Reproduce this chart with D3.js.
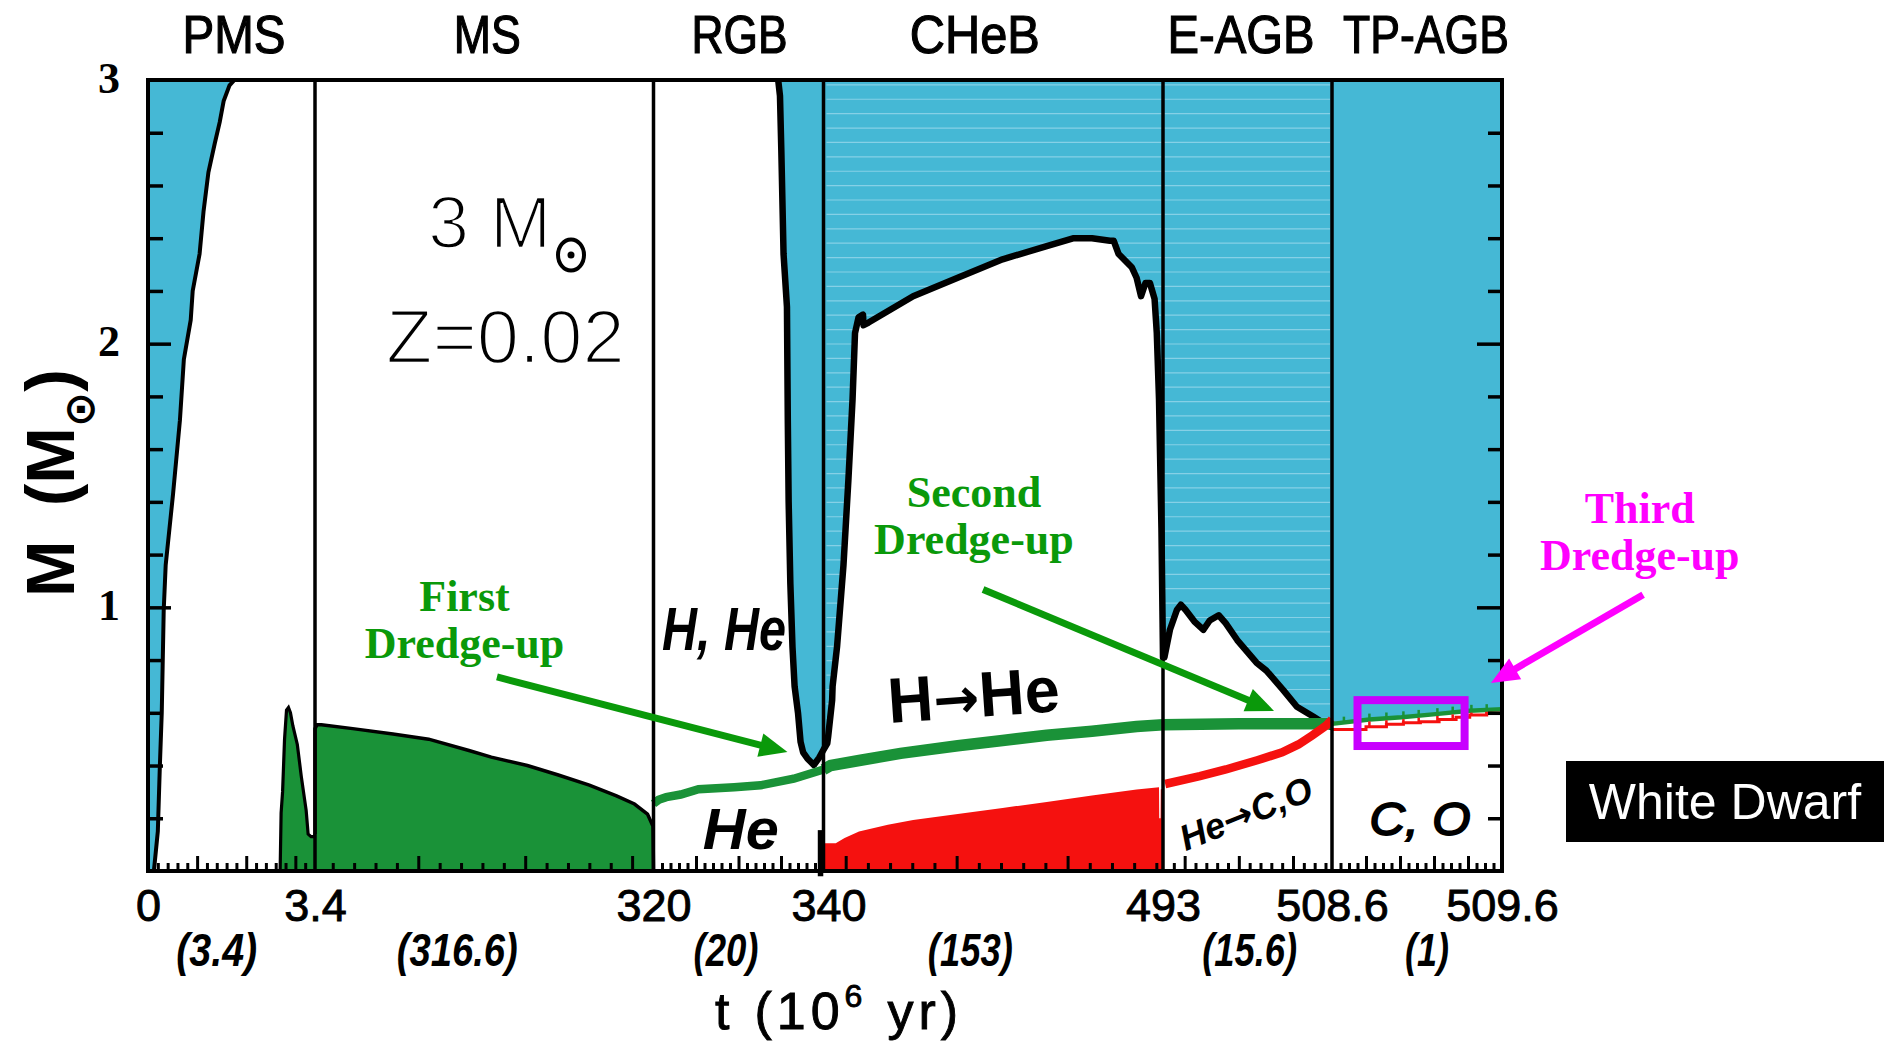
<!DOCTYPE html>
<html><head><meta charset="utf-8">
<script src="https://cdn.jsdelivr.net/npm/d3@7"></script>
<style>html,body{margin:0;padding:0;background:#fff;} svg{display:block;}</style>
</head><body>
<svg id="chart" width="1892" height="1045"></svg>
<script>
// ================= DATA =================
const phaseBreaks = [0, 3.4, 320, 340, 493, 508.6, 509.6];
const phaseNames = ["PMS", "MS", "RGB", "CHeB", "E-AGB", "TP-AGB"];
const phaseDurations = ["(3.4)", "(316.6)", "(20)", "(153)", "(15.6)", "(1)"];
const timeTickLabels = ["0", "3.4", "320", "340", "493", "508.6", "509.6"];
const massTickLabels = [1, 2, 3];

// base of the convective envelope during the PMS  [t (Myr), M (Msun)]
const pmsEnvelope = [[0.12,0.0],[0.20,0.15],[0.24,0.39],[0.28,0.60],[0.32,0.99],[0.36,1.16],[0.51,1.43],
  [0.65,1.71],[0.73,1.94],[0.87,2.09],[0.91,2.20],[1.05,2.34],[1.13,2.50],[1.23,2.65],[1.36,2.76],
  [1.46,2.84],[1.54,2.92],[1.66,2.98],[1.76,3.0]];
// base of the convective envelope RGB -> E-AGB
const envelopeBase = [[334.67,3.0],[334.88,2.94],[335.04,2.73],[335.3,2.34],[335.7,2.14],[335.8,1.71],
  [335.9,1.40],[336.1,1.09],[336.35,0.85],[336.6,0.70],[337.0,0.60],[337.3,0.49],[337.6,0.45],[338.1,0.427],
  [338.86,0.402],[339.5,0.43],[340,0.46],[341.7,0.484],[342.1,0.51],[343.9,0.648],[344.1,0.70],[346.1,0.85],
  [349.0,1.16],[351.2,1.48],[353.1,1.79],[354.2,2.04],[355.8,2.10],[357.8,2.11],[358.05,2.07],[360.3,2.08],
  [380.4,2.18],[400.5,2.25],[420.7,2.32],[440.6,2.37],[452.8,2.40],[461,2.40],[469.1,2.39],[470.8,2.39],
  [473,2.34],[478.9,2.29],[481.1,2.25],[483.1,2.18],[485.1,2.23],[487.1,2.23],[489.2,2.17],[490.2,2.04],
  [491.2,1.79],[492.3,1.30],[493,0.81],[493.13,0.81],[493.64,0.915],[494.28,0.99],[494.65,1.01],[495.09,0.99],
  [495.9,0.946],[496.73,0.915],[497.31,0.95],[498.14,0.97],[498.78,0.94],[499.85,0.876],[501.63,0.79],
  [502.54,0.76],[504.1,0.686],[505.36,0.623],[506.9,0.585],[508.1,0.554],[508.6,0.545]];
// TP-AGB envelope base (green) and H-free core (red, stepped)
const tpGreen = [[508.6,0.558],[508.82,0.575],[509.01,0.583],[509.21,0.595],[509.41,0.608],[509.6,0.613]];
const tpRed = [[508.6,0.537],[508.80,0.547],[508.92,0.557],[509.02,0.562],[509.12,0.566],[509.23,0.575],
  [509.33,0.583],[509.41,0.592],[509.51,0.598],[509.6,0.60]];
const tpPulses = [508.67,508.82,508.92,509.02,509.11,509.22,509.31,509.42,509.51];
// convective cores
const pmsCore = [[2.69,0.0],[2.71,0.22],[2.74,0.30],[2.78,0.50],[2.82,0.61],[2.86,0.62],[2.90,0.60],[2.95,0.55],
  [3.04,0.48],[3.12,0.36],[3.22,0.23],[3.26,0.14],[3.32,0.13],[3.38,0.13],[3.4,0.14]];
const msCore = [[3.4,0.14],[3.4,0.54],[5.3,0.555],[9.4,0.555],[38.7,0.54],[76.3,0.52],[109.7,0.50],[147.4,0.457],
  [168.3,0.432],[202,0.40],[231,0.364],[260,0.326],[285.4,0.285],[302.2,0.254],[314.4,0.216],[319.5,0.17],[320,0.0]];
const heCore = [[340,0.105],[345.5,0.105],[349.5,0.125],[356,0.15],[369,0.175],[380.4,0.193],[400.5,0.216],
  [420.7,0.239],[440.6,0.262],[461,0.286],[481.1,0.309],[491.2,0.318],[491.3,0.2],[491.9,0.2],[492.0,0.31],[493,0.31]];
// H-free core mass (green line) and He-free core mass on the E-AGB (red line)
const hFreeCoreRGB = [[320,0.255],[320.6,0.27],[321.5,0.28],[323.2,0.29],[325.3,0.31],[329.5,0.318],[332.6,0.325],
  [336.5,0.35],[340,0.385]];
const hFreeCoreLate = [[340,0.385],[343.2,0.40],[356.7,0.42],[374.75,0.446],[400.5,0.475],[420.7,0.495],
  [440.6,0.515],[461,0.53],[481.1,0.548],[493,0.555],[500,0.558],[508.6,0.558]];
const eagbRed = [[493.2,0.33],[496.4,0.36],[498.8,0.385],[501.7,0.42],[504,0.45],[505.5,0.48],[506.8,0.515],
  [508.1,0.553],[508.6,0.575]];
const heFlashBar = [[339.65,-0.02],[339.65,0.155]];
const dredgeBox = [[508.75,0.474],[509.38,0.648]];

// tick definitions per phase: [first, last, step, major every]
const timeTicks = [[0.2,3.2,0.2,1],[20,300,20,100],[321,339,1,5],[350,490,10,50],[494,508,1,5],[508.65,509.55,0.05,0.2]];
const massMinorStep = 0.2;

// annotations (anchored in data units)
const arrowsData = [
  {from:[173.6,0.736], to:[335.76,0.451], color:"#0a990a"},
  {from:[411.9,1.068], to:[503.25,0.607], color:"#0a990a"},
  {from:[510.43,1.048], to:[509.535,0.713], color:"#ff00ff"}
];
const dredgeLabels = [
  {t:143.2, lines:[["First",0.986],["Dredge-up",0.808]], color:"#0a990a"},
  {t:407.8, lines:[["Second",1.379],["Dredge-up",1.203]], color:"#0a990a"},
  {t:510.41, lines:[["Third",1.32],["Dredge-up",1.141]], color:"#ff00ff"}
];

// ================= LAYOUT =================
const L = {segEdges:[148,315,653.5,823.5,1163,1332,1502], top:80, bottom:871};
const svg = d3.select("#chart");
const x = d3.scaleLinear().domain(phaseBreaks).range(L.segEdges);
const y = d3.scaleLinear().domain([0,3]).range([L.bottom, L.top]);
const px = d => x(d[0]), py = d => y(d[1]);
const line = d3.line().x(px).y(py);
const BLUE = "#45b8d5", GREEN = "#1a9238", RED = "#f5110f";
const SANS = "'Liberation Sans', Arial, sans-serif", SERIF = "'Liberation Serif', 'Times New Roman', serif";
const DEJA = "'DejaVu Sans', sans-serif";

svg.append("rect").attr("width",1892).attr("height",1045).attr("fill","#fff");
const g = svg.append("g");

// ---- convective envelope (blue) ----
const pmsBlue = [[0,0]].concat(pmsEnvelope, [[0,3]]);
g.append("path").attr("d", line(pmsBlue)).attr("fill", BLUE);
const mainBlue = envelopeBase.concat(tpGreen, [[509.6,3],[envelopeBase[0][0],3]]);
g.append("path").attr("d", line(mainBlue)).attr("fill", BLUE);
// faint plotting stripes in the CHeB/E-AGB envelope
svg.append("clipPath").attr("id","blueClip").append("path").attr("d", line(mainBlue));
g.append("g").attr("clip-path","url(#blueClip)").selectAll("line")
  .data(d3.range(0.47, 3, 0.0546)).join("line")
  .attr("x1", x(340)+3).attr("x2", x(508.6)-2).attr("y1", d=>y(d)).attr("y2", d=>y(d))
  .attr("stroke","#86d0e6").attr("stroke-width",1.2);
g.append("path").attr("d", line(pmsEnvelope)).attr("fill","none").attr("stroke","#000").attr("stroke-width",4);
g.append("path").attr("d", line(envelopeBase)).attr("fill","none").attr("stroke","#000")
  .attr("stroke-width",6.5).attr("stroke-linejoin","round");

// ---- convective cores ----
g.append("path").attr("d", line(pmsCore.concat([[3.4,0]]))).attr("fill", GREEN);
g.append("path").attr("d", line(pmsCore)).attr("fill","none").attr("stroke","#000").attr("stroke-width",3.2);
g.append("path").attr("d", line([[3.4,0]].concat(msCore))).attr("fill", GREEN);
g.append("path").attr("d", line(msCore)).attr("fill","none").attr("stroke","#000").attr("stroke-width",3.5);
g.append("path").attr("d", line([[340,0]].concat(heCore, [[493,0]]))).attr("fill", RED);

// ---- core mass lines ----
g.append("path").attr("d", line(hFreeCoreRGB)).attr("fill","none").attr("stroke",GREEN).attr("stroke-width",8.5);
g.append("path").attr("d", line(hFreeCoreLate)).attr("fill","none").attr("stroke",GREEN).attr("stroke-width",11.5);
g.append("path").attr("d", line(eagbRed)).attr("fill","none").attr("stroke",RED).attr("stroke-width",8.5);
g.append("path").attr("d", line(tpGreen)).attr("fill","none").attr("stroke",GREEN).attr("stroke-width",4.5);
g.append("path").attr("d", d3.line().x(px).y(py).curve(d3.curveStepAfter)(tpRed))
  .attr("fill","none").attr("stroke",RED).attr("stroke-width",3);
const greenAt = t => { const i = d3.bisector(d=>d[0]).left(tpGreen, t); const a = tpGreen[Math.max(0,i-1)], b = tpGreen[Math.min(tpGreen.length-1,i)];
  return a[0]===b[0] ? a[1] : a[1] + (b[1]-a[1])*(t-a[0])/(b[0]-a[0]); };
const redAt = t => { let v = tpRed[0][1]; tpRed.forEach(d => { if (d[0] <= t+1e-9) v = d[1]; }); return v; };
g.selectAll(".gsp").data(tpPulses).join("line").attr("x1",d=>x(d)).attr("x2",d=>x(d))
  .attr("y1",d=>y(greenAt(d))).attr("y2",d=>y(greenAt(d)+0.022)).attr("stroke",GREEN).attr("stroke-width",2.5);
g.selectAll(".rsp").data(tpPulses.slice(1)).join("line").attr("x1",d=>x(d)).attr("x2",d=>x(d))
  .attr("y1",d=>y(redAt(d-0.001))).attr("y2",d=>y(greenAt(d))+2).attr("stroke",RED).attr("stroke-width",2.5);

// ---- helium flash bar ----
g.append("path").attr("d", line(heFlashBar)).attr("stroke","#000").attr("stroke-width",5.5);

// ---- phase boundaries ----
g.selectAll(".pb").data(phaseBreaks.slice(1,-1)).join("line")
  .attr("x1",d=>x(d)).attr("x2",d=>x(d)).attr("y1",y(3)).attr("y2",y(0))
  .attr("stroke","#000").attr("stroke-width",3.5);

// ---- axes (ticks inward) ----
const massMinor = d3.range(0, 3.001, massMinorStep).filter(v => Math.abs(v-Math.round(v))>1e-6);
function styleAxis(sel, w){ sel.select(".domain").remove(); sel.selectAll(".tick line").attr("stroke","#000").attr("stroke-width",w); sel.selectAll("text").remove(); }
svg.append("g").attr("transform",`translate(${L.segEdges[0]},0)`).call(d3.axisLeft(y).tickValues(massMinor).tickSize(-15)).call(styleAxis,3.5);
svg.append("g").attr("transform",`translate(${L.segEdges[0]},0)`).call(d3.axisLeft(y).tickValues([1,2]).tickSize(-23)).call(styleAxis,3.5);
svg.append("g").attr("transform",`translate(${L.segEdges[6]},0)`).call(d3.axisRight(y).tickValues(massMinor).tickSize(-14)).call(styleAxis,3.5);
svg.append("g").attr("transform",`translate(${L.segEdges[6]},0)`).call(d3.axisRight(y).tickValues([1,2]).tickSize(-25)).call(styleAxis,3.5);
let minorT = [], majorT = [];
timeTicks.forEach(([a,b,s,m]) => d3.range(a, b+s/2, s).forEach(v => {
  const r = v/m; (Math.abs(r-Math.round(r))<1e-6 ? majorT : minorT).push(+v.toFixed(3)); }));
svg.append("g").attr("transform",`translate(0,${L.bottom})`).call(d3.axisBottom(x).tickValues(minorT).tickSize(-8)).call(styleAxis,3);
svg.append("g").attr("transform",`translate(0,${L.bottom})`).call(d3.axisBottom(x).tickValues(majorT).tickSize(-15)).call(styleAxis,3);

// frame
svg.append("rect").attr("x",L.segEdges[0]).attr("y",L.top).attr("width",L.segEdges[6]-L.segEdges[0]).attr("height",L.bottom-L.top)
  .attr("fill","none").attr("stroke","#000").attr("stroke-width",4);

// tick labels
const xAx = svg.append("g").attr("transform",`translate(0,${L.bottom})`)
  .call(d3.axisBottom(x).tickValues(phaseBreaks).tickSize(0).tickFormat((d,i)=>timeTickLabels[i]));
xAx.select(".domain").remove();
xAx.selectAll("text").attr("y",50).attr("dy",0).attr("font-family",SANS).attr("font-size",45).attr("fill","#000")
  .attr("stroke","#000").attr("stroke-width",0.9).attr("dx",(d,i)=>i===3?5:0);
const yAx = svg.append("g").attr("transform",`translate(120,0)`)
  .call(d3.axisLeft(y).tickValues(massTickLabels).tickSize(0).tickPadding(0).tickFormat(d3.format("d")));
yAx.select(".domain").remove();
yAx.selectAll("text").attr("dy",12).attr("font-family",SERIF).attr("font-weight","bold").attr("font-size",44).attr("fill","#000");

// phase names on top
const phaseLabelDx = [2.5, 3, 1, -18.5, -6.5, 9];
const phaseLabelW = [103, 67, 96, 130, 147, 166];
svg.selectAll(".pn").data(phaseNames).join("text")
  .attr("x",(d,i)=>(x(phaseBreaks[i])+x(phaseBreaks[i+1]))/2 + phaseLabelDx[i]).attr("y",53)
  .attr("text-anchor","middle").attr("font-family",SANS).attr("font-size",53)
  .attr("stroke","#000").attr("stroke-width",1.2)
  .attr("textLength",(d,i)=>phaseLabelW[i]).attr("lengthAdjust","spacingAndGlyphs").text(d=>d);
// durations
const durDx = [-14.8, -27, -12.5, -22.9, 2.2, 10];
const durW = [81, 121, 65, 85, 95, 44];
svg.selectAll(".pd").data(phaseDurations).join("text")
  .attr("x",(d,i)=>(x(phaseBreaks[i])+x(phaseBreaks[i+1]))/2 + durDx[i]).attr("y",966)
  .attr("text-anchor","middle").attr("font-family",SANS).attr("font-size",46).attr("font-style","italic").attr("font-weight","bold")
  .attr("textLength",(d,i)=>durW[i]).attr("lengthAdjust","spacingAndGlyphs").text(d=>d);

// axis titles
const xt = svg.append("text").attr("x",715).attr("y",1029).attr("font-family",SANS).attr("font-size",52)
  .attr("letter-spacing",5).attr("stroke","#000").attr("stroke-width",0.9);
xt.append("tspan").text("t");
xt.append("tspan").attr("dx",20).text("(10");
xt.append("tspan").attr("font-size",32).attr("dx",0).attr("dy",-22).text("6");
xt.append("tspan").attr("dx",20).attr("dy",22).text("yr)");
const yt = svg.append("text").attr("transform","translate(74,597) rotate(-90)").attr("font-family",SANS)
  .attr("font-weight","bold").attr("font-size",68);
yt.append("tspan").text("M");
yt.append("tspan").attr("dx",34).text("(M");
yt.append("tspan").attr("font-family",DEJA).attr("font-size",42).attr("dy",20).text("⊙");
yt.append("tspan").attr("dy",-20).text(")");

// star parameters
const sx = x(109.1), sy = y(2.363);
svg.append("text").attr("x",sx).attr("y",sy).attr("font-family",SANS).attr("font-size",74)
  .attr("fill","#000").attr("stroke","#fff").attr("stroke-width",2.5).text("3 M");
svg.append("ellipse").attr("cx",sx+143).attr("cy",sy+7).attr("rx",13).attr("ry",15.5)
  .attr("fill","none").attr("stroke","#000").attr("stroke-width",4);
svg.append("circle").attr("cx",sx+143).attr("cy",sy+7).attr("r",3.5).attr("fill","#000");
svg.append("text").attr("x",x(69.8)).attr("y",y(1.926)).attr("font-family",SANS).attr("font-size",76)
  .attr("fill","#000").attr("stroke","#fff").attr("stroke-width",2.5).text("Z=0.02");

// composition labels
const ital = (t,M,txt,fs,len,rot) => {
  const e = svg.append("text").attr("transform",`translate(${x(t)},${y(M)}) rotate(${rot||0})`)
    .attr("font-family",SANS).attr("font-weight","bold").attr("font-style","italic").attr("font-size",fs).text(txt);
  if (len) e.attr("textLength",len).attr("lengthAdjust","spacingAndGlyphs");
  return e; };
ital(321.0, 0.838, "H, He", 62, 124);
ital(325.8, 0.083, "He", 58, 76);
const hco = svg.append("text").attr("transform",`translate(${x(495.1)},${y(0.075)}) rotate(-22)`)
  .attr("font-family",SANS).attr("font-weight","bold").attr("font-style","italic").attr("font-size",36)
  .attr("textLength",140).attr("lengthAdjust","spacingAndGlyphs");
hco.append("tspan").text("He");
hco.append("tspan").attr("font-family",DEJA).attr("font-style","normal").text("→");
hco.append("tspan").text("C,O");
ital(508.82, 0.137, "C, O", 46, 101).attr("font-weight","normal").attr("stroke","#000").attr("stroke-width",1.8);
const hhe = svg.append("text").attr("transform",`translate(${x(408.3)},${y(0.584)}) rotate(-4)`).attr("text-anchor","middle")
  .attr("font-family",SANS).attr("font-weight","bold").attr("font-size",64)
  .attr("textLength",172).attr("lengthAdjust","spacingAndGlyphs");
hhe.append("tspan").text("H");
hhe.append("tspan").attr("font-family",DEJA).attr("font-size",56).text("→");
hhe.append("tspan").text("He");

// dredge-up box
svg.append("rect").attr("x",x(dredgeBox[0][0])).attr("y",y(dredgeBox[1][1]))
  .attr("width",x(dredgeBox[1][0])-x(dredgeBox[0][0])).attr("height",y(dredgeBox[0][1])-y(dredgeBox[1][1]))
  .attr("fill","none").attr("stroke","#c800ff").attr("stroke-width",8);

// arrows
arrowsData.forEach(a => {
  const x1=x(a.from[0]), y1=y(a.from[1]), x2=x(a.to[0]), y2=y(a.to[1]);
  const dx=x2-x1, dy=y2-y1, len=Math.hypot(dx,dy), ux=dx/len, uy=dy/len, hl=28, hw=12;
  const bx=x2-ux*hl, by=y2-uy*hl;
  svg.append("line").attr("x1",x1).attr("y1",y1).attr("x2",bx+ux*4).attr("y2",by+uy*4)
    .attr("stroke",a.color).attr("stroke-width",7);
  svg.append("path").attr("d",`M${x2},${y2}L${bx-uy*hw},${by+ux*hw}L${bx+uy*hw},${by-ux*hw}Z`).attr("fill",a.color);
});
dredgeLabels.forEach(l => l.lines.forEach(([txt,M]) => {
  svg.append("text").attr("x",x(l.t)).attr("y",y(M)).attr("text-anchor","middle")
    .attr("font-family",SERIF).attr("font-weight","bold").attr("font-size",44).attr("fill",l.color).text(txt);
}));

// white dwarf label
svg.append("rect").attr("x",1566).attr("y",761).attr("width",318).attr("height",81).attr("fill","#000");
svg.append("text").attr("x",1725).attr("y",819).attr("text-anchor","middle").attr("font-family",SANS)
  .attr("font-size",50).attr("fill","#fff").text("White Dwarf");
</script>
</body></html>
